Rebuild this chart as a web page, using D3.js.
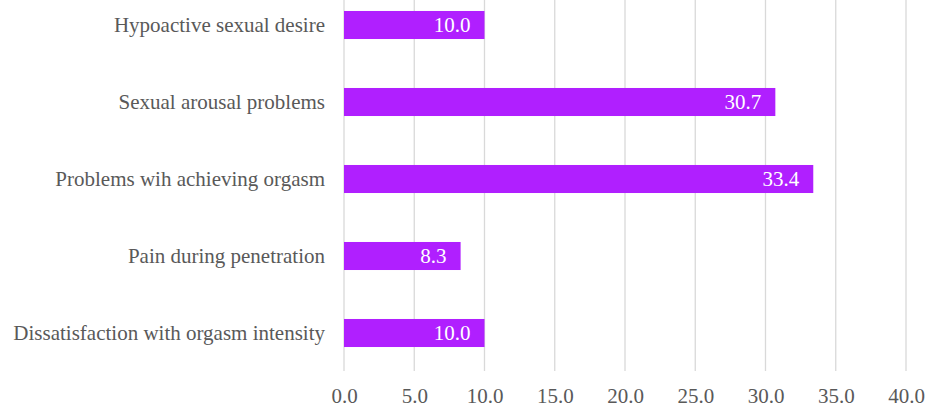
<!DOCTYPE html>
<html>
<head>
<meta charset="utf-8">
<script src="https://cdn.jsdelivr.net/npm/d3@7"></script>
<style>
  html, body { margin: 0; padding: 0; background: #fff; }
</style>
</head>
<body>
<div id="vis-container"></div>
<script>
const categories = [
    "Hypoactive sexual desire",
    "Sexual arousal problems",
    "Problems wih achieving orgasm",
    "Pain during penetration",
    "Dissatisfaction with orgasm intensity"
];
const values = [10.0, 30.7, 33.4, 8.3, 10.0];
const tickValues = [0, 5, 10, 15, 20, 25, 30, 35, 40];

const width = 927,
    height = 405;
const barColor = "#b01fff";
const serif = '"Liberation Serif", serif';

let svg = d3.select("#vis-container")
    .append("svg")
    .attr("width", width)
    .attr("height", height);

let x = d3.scaleLinear()
    .domain([0, 40])
    .range([344, 906]);

let y = d3.scaleBand()
    .domain(categories)
    .range([-13.5, 371.5])
    .paddingInner(0.636)
    .paddingOuter(0.318);

// vertical grid lines
svg.append("g")
    .selectAll("line")
    .data(tickValues)
    .enter().append("line")
    .attr("x1", d => x(d))
    .attr("x2", d => x(d))
    .attr("y1", 0)
    .attr("y2", 371)
    .attr("stroke", "#d9d9d9")
    .attr("stroke-width", 1.3);

// bottom axis, tick labels only
let xAxis = svg.append("g")
    .attr("transform", "translate(0,371)")
    .call(d3.axisBottom(x).tickValues(tickValues).tickFormat(d3.format(".1f")).tickSize(0).tickPadding(17));
xAxis.select(".domain").remove();
xAxis.selectAll("text")
    .attr("fill", "#595959")
    .style("font-family", serif)
    .style("font-size", "21px");

// category labels
let yAxis = svg.append("g")
    .attr("transform", "translate(344,0)")
    .call(d3.axisLeft(y).tickSize(0).tickPadding(19));
yAxis.select(".domain").remove();
yAxis.selectAll("text")
    .attr("fill", "#595959")
    .style("font-family", serif)
    .style("font-size", "21px");

let rows = svg.append("g")
    .selectAll("g")
    .data(categories.map((c, i) => ({name: c, value: values[i]})))
    .enter().append("g");

rows.append("rect")
    .attr("x", x(0))
    .attr("y", d => y(d.name))
    .attr("width", d => x(d.value) - x(0))
    .attr("height", y.bandwidth())
    .attr("fill", barColor);

rows.append("text")
    .attr("x", d => x(d.value) - 14)
    .attr("y", d => y(d.name) + y.bandwidth() / 2)
    .attr("dy", "0.35em")
    .attr("text-anchor", "end")
    .attr("fill", "#fff")
    .style("font-family", serif)
    .style("font-size", "21px")
    .text(d => d.value.toFixed(1));
</script>
</body>
</html>
